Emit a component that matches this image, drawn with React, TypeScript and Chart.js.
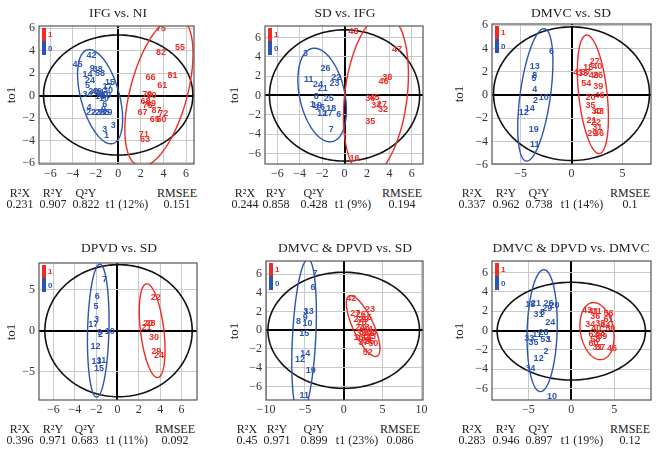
import React, { useEffect, useRef } from "react";
import { Chart, registerables } from "chart.js";
Chart.register(...registerables);

// ---------- DATA ----------
// Panel 1: IFG vs. NI
const p1RedLabels = ["75", "55", "82", "81", "66", "61", "70", "80", "68", "69", "76", "67", "87", "72", "65", "60", "71", "63"];
const p1RedX = [3.78, 5.46, 3.78, 4.8, 2.86, 3.9, 2.57, 2.95, 2.42, 2.89, 2.6, 2.15, 3.39, 3.98, 3.24, 3.83, 2.27, 2.36];
const p1RedY = [5.99, 4.3, 3.85, 1.78, 1.63, 0.89, 0.06, -0.03, -0.53, -0.74, -0.85, -1.48, -1.36, -1.57, -2.16, -2.1, -3.5, -3.94];
const p1BlueLabels = ["42", "45", "9", "38", "58", "14", "24", "5", "15", "17", "34", "26", "46", "11", "80", "19", "18", "10", "30", "4", "6", "9", "22", "23", "25", "28", "29", "3", "3", "1"];
const p1BlueX = [-2.36, -3.6, -2.3, -1.8, -1.6, -2.71, -2.5, -2.71, -0.73, -0.95, -2.71, -2.2, -1.9, -1.6, -1.35, -1.05, -1.6, -1.25, -0.9, -2.59, -1.18, -1.3, -2.4, -1.95, -1.6, -1.2, -0.95, -1.18, -0.44, -1.03];
const p1BlueY = [3.56, 2.79, 2.45, 2.3, 1.95, 1.9, 1.31, 0.86, 1.16, 0.85, 0.06, 0.35, 0.4, 0.25, 0.05, 0.0, -0.1, -0.25, 0.45, -1.07, -0.83, -1.2, -1.55, -1.55, -1.55, -1.55, -1.5, -2.99, -2.69, -3.56];

// Panel 2: SD vs. IFG
const p2RedLabels = ["48", "47", "38", "46", "36", "45", "34", "27", "32", "35", "16"];
const p2RedX = [0.8, 4.67, 3.81, 3.48, 2.29, 2.68, 2.83, 3.33, 3.42, 2.29, 0.89];
const p2RedY = [6.62, 4.79, 1.86, 1.45, -0.28, -0.21, -1.07, -0.97, -1.48, -2.69, -6.48];
const p2BlueLabels = ["3", "26", "11", "24", "22", "23", "21", "8", "25", "1", "19", "16", "18", "12", "17", "6", "7"];
const p2BlueX = [-3.48, -1.7, -3.19, -2.38, -0.74, -0.89, -1.94, -2.53, -1.4, -2.85, -2.45, -2.2, -1.19, -1.99, -1.49, -0.51, -1.19];
const p2BlueY = [4.3, 2.76, 1.62, 1.18, 1.85, 1.28, 0.76, -0.1, -0.27, -0.95, -1.0, -1.2, -1.3, -1.82, -1.92, -2.0, -3.55];

// Panel 3: DMVC vs. SD
const p3RedLabels = ["27", "40", "18", "41", "33", "37", "48", "26", "54", "39", "20", "46", "35", "30", "43", "21", "22", "31", "29", "36"];
const p3RedX = [2.29, 2.52, 1.64, 0.66, 1.12, 1.4, 2.19, 2.6, 1.44, 2.62, 1.87, 2.75, 1.87, 2.45, 2.7, 1.97, 2.4, 2.52, 2.03, 2.69];
const p3RedY = [2.89, 2.47, 2.33, 1.9, 1.85, 1.9, 1.68, 1.65, 0.97, 0.68, -0.22, -0.08, -0.93, -1.42, -1.4, -2.21, -2.4, -2.8, -3.35, -3.35];
const p3BlueLabels = ["6", "13", "8", "5", "4", "2", "10", "14", "12", "19", "11"];
const p3BlueX = [-1.97, -3.61, -3.61, -3.7, -3.61, -3.54, -2.72, -4.1, -4.69, -3.7, -3.61];
const p3BlueY = [3.69, 2.47, 1.7, 1.39, 0.43, -0.45, -0.23, -1.16, -1.5, -3.0, -4.28];

// Panel 4: DPVD vs. SD
const p4RedLabels = ["22", "20", "28", "21", "30", "29", "24"];
const p4RedX = [3.58, 2.87, 3.1, 2.71, 3.43, 3.64, 3.89];
const p4RedY = [4.06, 0.9, 0.9, 0.41, -0.86, -2.5, -2.99];
const p4BlueLabels = ["7", "6", "5", "3", "17", "9", "2", "10", "12", "13", "11", "15"];
const p4BlueX = [-1.18, -1.9, -2.02, -1.96, -2.27, -1.65, -1.6, -0.72, -2.06, -1.96, -1.5, -1.74];
const p4BlueY = [6.23, 4.18, 2.95, 1.31, 0.7, -0.25, -0.45, -0.12, -1.89, -3.81, -3.69, -4.63];

// Panel 5: DMVC & DPVD vs. SD
const p5RedLabels = ["42", "23", "27", "26", "15", "22", "29", "28", "24", "43", "44", "30", "35", "38", "31", "16", "33", "34", "36", "25", "37", "50", "52"];
const p5RedX = [0.97, 3.39, 1.48, 2.2, 2.96, 1.9, 2.6, 2.33, 2.12, 2.7, 3.1, 2.6, 2.3, 3.6, 3.2, 1.9, 3.5, 2.8, 3.0, 3.3, 2.5, 3.81, 3.09];
const p5RedY = [3.41, 2.22, 1.76, 1.7, 1.33, 1.2, 1.2, 0.79, 0.26, 0.3, 0.1, -0.2, -0.4, -0.2, -0.4, -0.82, -0.7, -0.9, -1.1, -1.2, -1.3, -1.46, -2.43];
const p5BlueLabels = ["7", "6", "3", "13", "9", "8", "10", "15", "14", "12", "19", "11"];
const p5BlueX = [-3.69, -3.94, -4.9, -4.5, -4.96, -5.81, -4.66, -5.08, -4.96, -5.64, -4.24, -5.08];
const p5BlueY = [6.06, 4.55, 1.97, 2.0, 1.33, 0.9, 0.68, -0.39, -2.44, -3.15, -4.3, -6.99];

// Panel 6: DMVC & DPVD vs. DMVC
const p6RedLabels = ["43", "41", "11", "56", "36", "61", "34", "38", "44", "50", "40", "88", "62", "39", "58", "60", "31", "37", "46"];
const p6RedX = [1.83, 2.6, 3.0, 4.35, 2.8, 4.35, 2.22, 3.38, 3.97, 4.55, 2.9, 3.38, 2.6, 3.6, 2.8, 2.6, 3.05, 3.38, 4.75];
const p6RedY = [2.04, 1.97, 1.95, 1.73, 1.45, 1.18, 0.59, 0.77, 0.49, 0.25, 0.2, -0.27, -0.44, -0.6, -0.96, -1.3, -1.72, -1.72, -1.82];
const p6BlueLabels = ["18", "21", "26", "20", "29", "31", "8", "24", "28", "11", "33", "35", "53", "1", "2", "12", "34", "10"];
const p6BlueX = [-4.78, -4.12, -2.65, -1.95, -2.8, -3.81, -3.35, -2.45, -3.23, -4.0, -4.9, -4.4, -3.03, -2.6, -2.95, -3.81, -4.78, -2.26];
const p6BlueY = [2.73, 2.83, 2.76, 2.55, 2.3, 1.62, 1.85, 0.83, -0.2, -0.38, -0.79, -1.24, -0.96, -0.96, -2.17, -2.86, -3.89, -6.83];

// Ellipses: [centerX, centerY, axisAx, axisAy, axisBx, axisBy]
const p1Ellipses = [[0, 0.05, 0, 5.35, 6.6, 0], [-1.6, -0.1, -0.95, 4.2, 1.75, 0], [3.6, 0.35, 1.52, 6.67, 2.6, 0]];
const p2Ellipses = [[0, 0, 0, 6.8, 6.7, 0], [-2.0, 0.05, -0.7, 4.85, 2.05, 0], [2.8, 0, 0.75, 8.4, 2.8, 0]];
const p3Ellipses = [[0, 0.1, 0, 5.75, 7.65, 0], [-3.55, 0, 0.85, 5.7, 1.5, 0], [2.1, 0.05, -0.6, 5.1, 1.4, 0]];
const p4Ellipses = [[0.1, 0, 0, 8.1, 6.9, 0], [-1.8, 0, 0.15, 8.15, 1.0, 0], [3.25, 0, -0.5, 5.75, 1.1, 0]];
const p5Ellipses = [[0, 0, 0, 6.2, 9.75, 0], [-5.1, -0.8, 0.5, 8.4, 1.5, 0], [2.5, 0.45, -1.6, 3.25, 1.45, 0]];
const p6Ellipses = [[0, -0.05, 0, 5.05, 8.65, 0], [-3.4, 0, 0.2, 6.3, 1.75, 0], [3.0, -0.05, -0.4, 2.95, 1.95, 0]];

// Ticks
const ticksEven6 = [-6, -4, -2, 0, 2, 4, 6];
const ticks5 = [-5, 0, 5];
const ticks10 = [-10, -5, 0, 5, 10];

// Titles and statistics
const titles = ["IFG vs. NI", "SD vs. IFG", "DMVC vs. SD", "DPVD vs. SD", "DMVC & DPVD vs. SD", "DMVC & DPVD vs. DMVC"];
const statHeads = ["R²X", "R²Y", "Q²Y", "", "RMSEE"];
const r2x = ["0.231", "0.244", "0.337", "0.396", "0.45", "0.283"];
const r2y = ["0.907", "0.858", "0.962", "0.971", "0.971", "0.946"];
const q2y = ["0.822", "0.428", "0.738", "0.683", "0.899", "0.897"];
const t1 = ["t1 (12%)", "t1 (9%)", "t1 (14%)", "t1 (11%)", "t1 (23%)", "t1 (19%)"];
const rmsee = ["0.151", "0.194", "0.1", "0.092", "0.086", "0.12"];

// ---------- STYLE / LAYOUT ----------
const RED = "#ee2c27";
const BLUE = "#2c55b2";
const ELL_COLORS = ["#111111", "#2c55b2", "#ee2c27"];
const SERIF = "'Liberation Serif', 'Times New Roman', serif";
const SANS = "'Liberation Sans', Arial, sans-serif";

type Layout = {
  L: number; T: number; R: number; B: number;
  xr: [number, number]; yr: [number, number];
  xt: number[]; yt: number[];
  statX: number[]; statY: [number, number];
  titleX: number; titleY: number; ylabX: number;
};

const layouts: Layout[] = [
  { L: 39, T: 26, R: 194, B: 164, xr: [-7.0, 6.7], yr: [-6.1, 6.2], xt: ticksEven6, yt: ticksEven6, statX: [20, 53, 86, 127, 177], statY: [193, 204], titleX: 118, titleY: 13, ylabX: 10 },
  { L: 265, T: 26, R: 423, B: 164, xr: [-7.1, 7.0], yr: [-7.1, 7.2], xt: ticksEven6, yt: ticksEven6, statX: [245, 276, 314, 353, 402], statY: [193, 204], titleX: 345, titleY: 13, ylabX: 233 },
  { L: 492, T: 24, R: 651, B: 164, xr: [-7.8, 7.8], yr: [-5.95, 6.1], xt: ticks5, yt: ticksEven6, statX: [472, 506, 539, 582, 630], statY: [193, 204], titleX: 571, titleY: 13, ylabX: 458 },
  { L: 39, T: 263, R: 197, B: 400, xr: [-7.35, 7.45], yr: [-8.5, 8.3], xt: ticksEven6, yt: ticks5, statX: [20, 53, 85, 127, 175], statY: [429, 440], titleX: 119, titleY: 248, ylabX: 10 },
  { L: 266, T: 261, R: 423, B: 400, xr: [-10.0, 10.2], yr: [-7.45, 7.4], xt: ticks10, yt: ticksEven6, statX: [247, 277, 314, 357, 400], statY: [429, 440], titleX: 345, titleY: 248, ylabX: 233 },
  { L: 492, T: 261, R: 651, B: 400, xr: [-9.25, 9.3], yr: [-7.17, 7.2], xt: ticks5, yt: ticksEven6, statX: [472, 506, 539, 582, 630], statY: [429, 440], titleX: 571, titleY: 248, ylabX: 458 },
];

type PanelData = {
  redL: string[]; redX: number[]; redY: number[];
  blueL: string[]; blueX: number[]; blueY: number[];
  ell: number[][];
};

const panelData: PanelData[] = [
  { redL: p1RedLabels, redX: p1RedX, redY: p1RedY, blueL: p1BlueLabels, blueX: p1BlueX, blueY: p1BlueY, ell: p1Ellipses },
  { redL: p2RedLabels, redX: p2RedX, redY: p2RedY, blueL: p2BlueLabels, blueX: p2BlueX, blueY: p2BlueY, ell: p2Ellipses },
  { redL: p3RedLabels, redX: p3RedX, redY: p3RedY, blueL: p3BlueLabels, blueX: p3BlueX, blueY: p3BlueY, ell: p3Ellipses },
  { redL: p4RedLabels, redX: p4RedX, redY: p4RedY, blueL: p4BlueLabels, blueX: p4BlueX, blueY: p4BlueY, ell: p4Ellipses },
  { redL: p5RedLabels, redX: p5RedX, redY: p5RedY, blueL: p5BlueLabels, blueX: p5BlueX, blueY: p5BlueY, ell: p5Ellipses },
  { redL: p6RedLabels, redX: p6RedX, redY: p6RedY, blueL: p6BlueLabels, blueX: p6BlueX, blueY: p6BlueY, ell: p6Ellipses },
];

const fmt = (v: number) => (v < 0 ? "\u2212" + Math.abs(v) : String(v));

const YW = 40, XH = 22, PT = 6, PR = 12;

function Panel({ d, lay }: { d: PanelData; lay: Layout }) {
  const ref = useRef<HTMLCanvasElement>(null);
  const cw = lay.R - lay.L + YW + PR;
  const ch = lay.B - lay.T + PT + XH;

  useEffect(() => {
    const ellipsePlugin = {
      id: "ellipses",
      beforeDatasetsDraw(chart: any) {
        const { ctx, chartArea, scales } = chart;
        ctx.save();
        ctx.beginPath();
        ctx.rect(chartArea.left, chartArea.top, chartArea.right - chartArea.left, chartArea.bottom - chartArea.top);
        ctx.clip();
        d.ell.forEach((e, k) => {
          const [cx, cy, ax, ay, bx, by] = e;
          ctx.beginPath();
          const N = 160;
          for (let i = 0; i <= N; i++) {
            const t = (i / N) * Math.PI * 2;
            const x = cx + ax * Math.cos(t) + bx * Math.sin(t);
            const y = cy + ay * Math.cos(t) + by * Math.sin(t);
            const px = scales.x.getPixelForValue(x);
            const py = scales.y.getPixelForValue(y);
            if (i === 0) ctx.moveTo(px, py); else ctx.lineTo(px, py);
          }
          ctx.strokeStyle = ELL_COLORS[k];
          ctx.lineWidth = k === 0 ? 1.6 : 1.4;
          ctx.stroke();
        });
        ctx.restore();
      },
    };
    const labelPlugin = {
      id: "pointLabels",
      afterDatasetsDraw(chart: any) {
        const { ctx, chartArea } = chart;
        ctx.save();
        ctx.beginPath();
        ctx.rect(chartArea.left, chartArea.top, chartArea.right - chartArea.left, chartArea.bottom - chartArea.top);
        ctx.clip();
        ctx.font = `bold 9px ${SANS}`;
        ctx.textAlign = "center";
        ctx.textBaseline = "middle";
        chart.data.datasets.forEach((ds: any, i: number) => {
          const meta = chart.getDatasetMeta(i);
          ctx.fillStyle = ds.labelColor;
          meta.data.forEach((el: any, j: number) => {
            ctx.fillText(ds.pointLabels[j], el.x, el.y);
          });
        });
        ctx.restore();
      },
      afterDraw(chart: any) {
        const { ctx, chartArea } = chart;
        ctx.save();
        // legend bars
        const lx = chartArea.left + 3, ly = chartArea.top + 2;
        ctx.fillStyle = RED;
        ctx.fillRect(lx, ly, 4, 13);
        ctx.fillStyle = BLUE;
        ctx.fillRect(lx, ly + 13, 4, 14);
        ctx.font = `bold 8px ${SANS}`;
        ctx.textAlign = "left";
        ctx.textBaseline = "middle";
        ctx.fillStyle = RED;
        ctx.fillText("1", lx + 6, ly + 7);
        ctx.fillStyle = BLUE;
        ctx.fillText("0", lx + 6, ly + 21);
        // frame
        ctx.strokeStyle = "#555";
        ctx.lineWidth = 1.2;
        ctx.strokeRect(chartArea.left, chartArea.top, chartArea.right - chartArea.left, chartArea.bottom - chartArea.top);
        ctx.restore();
      },
    };

    const gridColor = (c: any) => (c.tick && c.tick.value === 0 ? "#000" : "#c9c9c9");
    const gridWidth = (c: any) => (c.tick && c.tick.value === 0 ? 2 : 1);

    const chart = new Chart(ref.current as HTMLCanvasElement, {
      type: "scatter",
      data: {
        datasets: [
          { data: d.blueX.map((x, i) => ({ x, y: d.blueY[i] })), pointRadius: 0, pointLabels: d.blueL, labelColor: BLUE } as any,
          { data: d.redX.map((x, i) => ({ x, y: d.redY[i] })), pointRadius: 0, pointLabels: d.redL, labelColor: RED } as any,
        ],
      },
      options: {
        animation: false,
        responsive: false,
        maintainAspectRatio: false,
        layout: { padding: { top: PT, right: PR, left: 0, bottom: 0 } },
        plugins: { legend: { display: false }, tooltip: { enabled: false }, title: { display: false } },
        scales: {
          x: {
            type: "linear",
            min: lay.xr[0],
            max: lay.xr[1],
            afterBuildTicks: (s: any) => { s.ticks = lay.xt.map((v) => ({ value: v })); },
            afterFit: (s: any) => { s.height = XH; s.paddingLeft = 0; s.paddingRight = 0; },
            ticks: { color: "#333", font: { family: SERIF, size: 12 }, padding: 3, callback: (v: any) => fmt(Number(v)), maxRotation: 0, autoSkip: false },
            grid: { color: gridColor, lineWidth: gridWidth, drawTicks: false },
            border: { display: false },
          },
          y: {
            type: "linear",
            min: lay.yr[0],
            max: lay.yr[1],
            afterBuildTicks: (s: any) => { s.ticks = lay.yt.map((v) => ({ value: v })); },
            afterFit: (s: any) => { s.width = YW; s.paddingTop = 0; s.paddingBottom = 0; },
            ticks: { color: "#333", font: { family: SERIF, size: 12 }, padding: 4, callback: (v: any) => fmt(Number(v)), autoSkip: false },
            grid: { color: gridColor, lineWidth: gridWidth, drawTicks: false },
            border: { display: false },
          },
        },
      },
      plugins: [ellipsePlugin, labelPlugin],
    });
    return () => chart.destroy();
  }, []);

  return (
    <canvas
      ref={ref}
      width={cw}
      height={ch}
      style={{ position: "absolute", left: lay.L - YW, top: lay.T - PT, width: cw, height: ch }}
    />
  );
}

const textStyle = (x: number, y: number, size: number): React.CSSProperties => ({
  position: "absolute",
  left: x,
  top: y,
  transform: "translate(-50%, -50%)",
  whiteSpace: "nowrap",
  fontFamily: SERIF,
  fontSize: size,
  color: "#222",
  lineHeight: 1,
});

export default function App() {
  return (
    <div style={{ position: "absolute", left: 0, top: 0, width: 658, height: 453, background: "#fff", overflow: "hidden" }}>
      {layouts.map((lay, i) => {
        const row2 = [r2x[i], r2y[i], q2y[i], t1[i], rmsee[i]];
        return (
          <React.Fragment key={i}>
            <Panel d={panelData[i]} lay={lay} />
            <div style={textStyle(lay.titleX, lay.titleY, 13.5)}>{titles[i]}</div>
            <div style={{ ...textStyle(lay.ylabX, (lay.T + lay.B) / 2, 13), transform: "translate(-50%, -50%) rotate(-90deg)" }}>to1</div>
            {statHeads.map((h, k) => (h ? <div key={"h" + k} style={textStyle(lay.statX[k], lay.statY[0], 12)}>{h}</div> : null))}
            {row2.map((v, k) => (
              <div key={"v" + k} style={textStyle(lay.statX[k], lay.statY[1], 12)}>{v}</div>
            ))}
          </React.Fragment>
        );
      })}
    </div>
  );
}
